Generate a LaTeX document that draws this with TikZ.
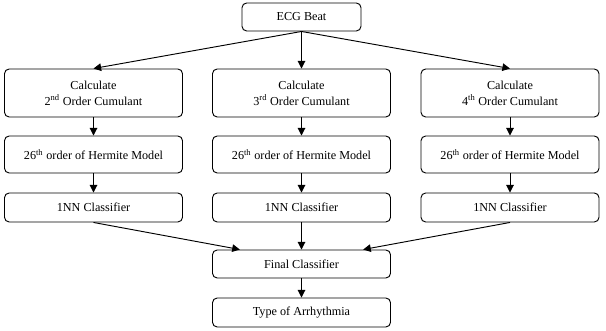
\documentclass[tikz,border=0pt]{standalone}
\usepackage{fontspec}
\setmainfont{Liberation Serif}
\usetikzlibrary{arrows.meta,positioning,calc}

\begin{document}
\begin{tikzpicture}[>={Triangle[length=6.5pt,width=6.5pt]},font=\fontsize{10.4}{13.4}\selectfont,
 box/.style={draw,line width=0.8pt,rounded corners=4pt,fill=white,minimum width=5.34cm,align=center},
 arr/.style={->,line width=0.8pt}]
\useasboundingbox (0,0) rectangle (18.18,9.93);
\node[box,minimum width=3.57cm,minimum height=0.84cm] (ecg) at (9.045,9.42) {ECG Beat};
\node[box,minimum height=1.44cm] (c2) at (2.805,7.14) {Calculate\\2\textsuperscript{nd} Order Cumulant};
\node[box,minimum height=1.44cm] (c3) at (9.045,7.14) {Calculate\\3\textsuperscript{rd} Order Cumulant};
\node[box,minimum height=1.44cm] (c4) at (15.3,7.14) {Calculate\\4\textsuperscript{th} Order Cumulant};
\node[box,minimum height=1.11cm] (h2) at (2.805,5.295) {26\textsuperscript{th} order of Hermite Model};
\node[box,minimum height=1.11cm] (h3) at (9.045,5.295) {26\textsuperscript{th} order of Hermite Model};
\node[box,minimum height=1.11cm] (h4) at (15.3,5.295) {26\textsuperscript{th} order of Hermite Model};
\node[box,minimum height=0.87cm] (n2) at (2.805,3.705) {1NN Classifier};
\node[box,minimum height=0.87cm] (n3) at (9.045,3.705) {1NN Classifier};
\node[box,minimum height=0.87cm] (n4) at (15.3,3.705) {1NN Classifier};
\node[box,minimum height=0.84cm] (fc) at (9.045,2.01) {Final Classifier};
\node[box,minimum height=0.87cm] (ta) at (9.045,0.555) {Type of Arrhythmia};
% fan out from the beat, three parallel chains
\foreach \k in {2,3,4} {
 \draw[arr] (ecg.south) -- (c\k.north);
 \draw[arr] (c\k) -- (h\k);
 \draw[arr] (h\k) -- (n\k);
}
% fan in to the final classifier
\draw[arr] (n2.south) -- ($(fc.north)+(-1.85,0)$);
\draw[arr] (n3.south) -- (fc.north);
\draw[arr] (n4.south) -- ($(fc.north)+(1.85,0)$);
\draw[arr] (fc) -- (ta);
\end{tikzpicture}
\end{document}
